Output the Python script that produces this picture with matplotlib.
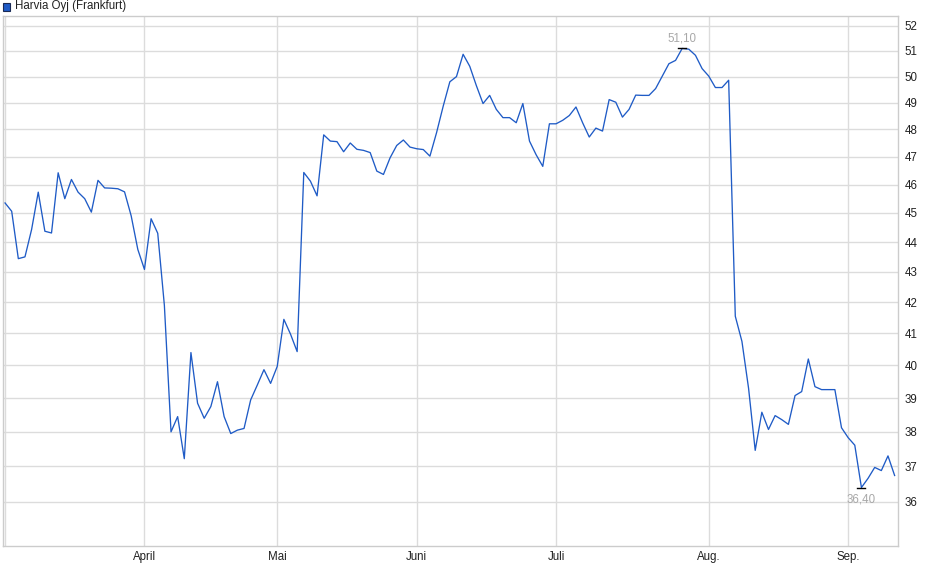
import numpy as np
import pandas as pd
import matplotlib
matplotlib.use("Agg")
import matplotlib.pyplot as plt
from matplotlib.ticker import FixedLocator, NullLocator, FixedFormatter

plt.rcParams['font.family'] = ['Liberation Sans', 'DejaVu Sans']

# Harvia Oyj (Frankfurt), daily close, 3 Mar - 10 Sep 2025 (trading days)
holidays = ["2025-04-18", "2025-04-21", "2025-05-01"]
prices = [
    45.35, 45.06, 43.44, 43.50, 44.43, 45.73, 44.37, 44.31, 46.42, 45.50,
    46.18, 45.73, 45.50, 45.03, 46.15, 45.88, 45.87, 45.85, 45.74, 44.90,
    43.75, 43.08, 44.80, 44.30, 41.90, 38.00, 38.45, 37.22, 40.40, 38.85,
    38.40, 38.75, 39.50, 38.45, 37.95, 38.05, 38.10, 38.95, 39.40, 39.87,
    39.45, 39.97, 41.45, 40.98, 40.43, 46.43, 46.12, 45.60, 47.80, 47.57,
    47.55, 47.18, 47.50, 47.27, 47.23, 47.15, 46.48, 46.36, 46.96, 47.41,
    47.61, 47.35, 47.29, 47.26, 47.02, 47.88, 48.87, 49.80, 50.00, 50.87,
    50.40, 49.65, 48.97, 49.28, 48.75, 48.44, 48.44, 48.25, 48.97, 47.57,
    47.07, 46.65, 48.21, 48.21, 48.34, 48.52, 48.84, 48.25, 47.72, 48.05,
    47.94, 49.12, 49.02, 48.46, 48.75, 49.29, 49.28, 49.28, 49.54, 50.02,
    50.50, 50.63, 51.10, 51.07, 50.83, 50.31, 50.02, 49.58, 49.58, 49.86,
    41.55, 40.75, 39.30, 37.46, 38.58, 38.07, 38.48, 38.36, 38.22, 39.08,
    39.20, 40.20, 39.35, 39.26, 39.26, 39.26, 38.12, 37.83, 37.61, 36.40,
    36.66, 36.97, 36.88, 37.30, 36.74,
]
month_labels = ["", "April", "Mai", "Juni", "Juli", "Aug.", "Sep."]
y_ticks = [36, 37, 38, 39, 40, 41, 42, 43, 44, 45, 46, 47, 48, 49, 50, 51, 52]

dates = pd.bdate_range("2025-03-03", "2025-09-10")
dates = dates[~dates.isin(pd.to_datetime(holidays))]
idx = np.arange(len(prices))
months = dates[:len(prices)].to_period("M")
month_starts = [i for i in idx if i == 0 or months[i] != months[i - 1]]

grid_col = "#dcdcdc"
line_col = "#1f5bc6"

fig = plt.figure(figsize=(9.4, 5.79), dpi=100)
ax = fig.add_axes([0.0029, 0.0575, 0.952, 0.915])

ax.plot(idx, prices, color=line_col, lw=0.95, zorder=3)
ax.set_yscale("log")
ax.set_ylim(34.8, 52.4)
ax.set_xlim(-0.35, 134.45)

ax.yaxis.set_major_locator(FixedLocator(y_ticks))
ax.yaxis.set_major_formatter(FixedFormatter([str(t) for t in y_ticks]))
ax.yaxis.set_minor_locator(NullLocator())
ax.xaxis.set_major_locator(FixedLocator(month_starts))
ax.xaxis.set_major_formatter(FixedFormatter(month_labels))
ax.yaxis.tick_right()
ax.tick_params(axis="both", length=0, labelsize=8.3, colors="#222222")
ax.tick_params(axis="y", pad=5)
ax.tick_params(axis="x", pad=4)
ax.grid(True, color=grid_col, lw=1.0, zorder=0)
for s in ax.spines.values():
    s.set_color("#cccccc")
    s.set_linewidth(1.0)

# high / low markers
imax = int(np.argmax(prices))
imin = int(np.argmin(prices))
for i, dy, va in [(imax, 3, "bottom"), (imin, -4, "top")]:
    ax.plot([i - 0.6, i + 0.6], [prices[i], prices[i]], color="black", lw=1.0, zorder=4)
    ax.annotate(f"{prices[i]:.2f}".replace(".", ","), (i, prices[i]),
                xytext=(0, dy), textcoords="offset points", ha="center", va=va,
                fontsize=8.3, color="#a8a8a8")

# legend box
fig.patches.append(plt.Rectangle((3 / 940, 1 - 10.5 / 579), 7 / 940, 7 / 579,
                                 transform=fig.transFigure, facecolor=line_col,
                                 edgecolor="#1a2a55", lw=0.8))
fig.text(15 / 940, 1 - 6.5 / 579, "Harvia Oyj (Frankfurt)", fontsize=8.3,
         va="center", ha="left", color="#222222")

fig.savefig("out.png", dpi=100)
